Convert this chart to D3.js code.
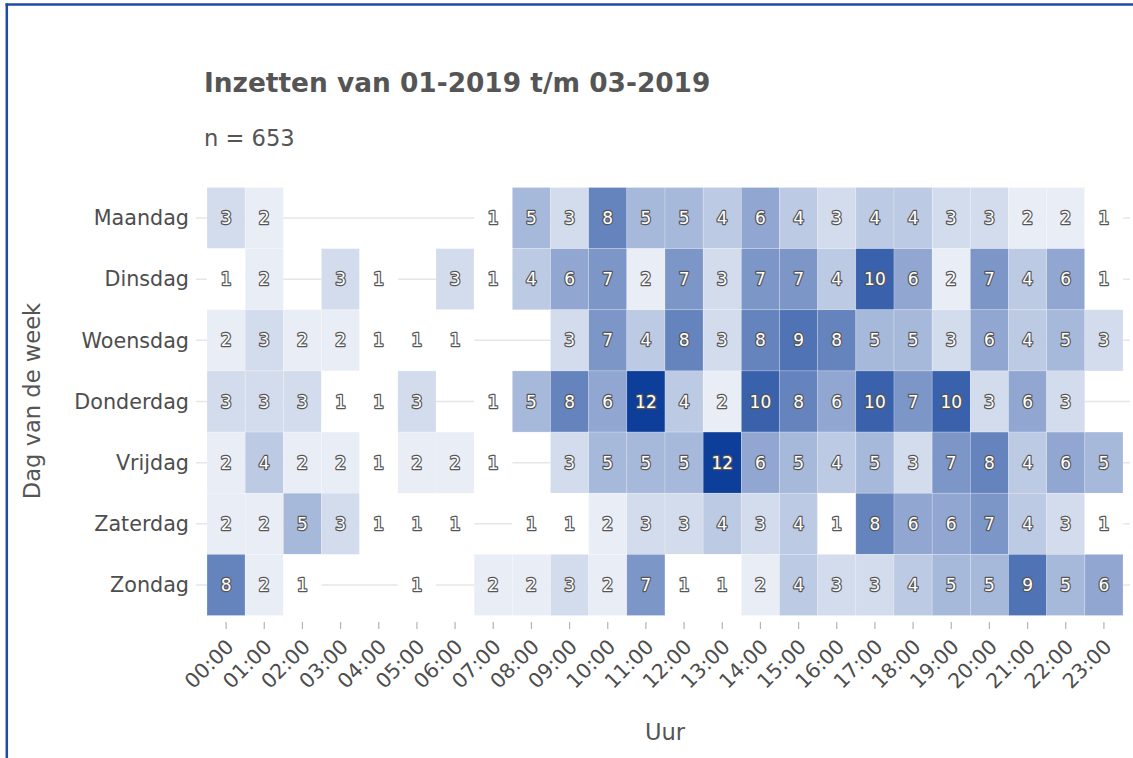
<!DOCTYPE html>
<html>
<head>
<meta charset="utf-8">
<script src="https://cdn.jsdelivr.net/npm/d3@7"></script>
<style>
  body { margin: 0; background: #fff; }
  text { font-family: "DejaVu Sans", sans-serif; }
</style>
</head>
<body>
<svg id="chart"></svg>
<script>
// data
var days = ["Maandag", "Dinsdag", "Woensdag", "Donderdag", "Vrijdag", "Zaterdag", "Zondag"];
var hours = ["00:00", "01:00", "02:00", "03:00", "04:00", "05:00", "06:00", "07:00", "08:00", "09:00", "10:00", "11:00",
             "12:00", "13:00", "14:00", "15:00", "16:00", "17:00", "18:00", "19:00", "20:00", "21:00", "22:00", "23:00"];
// null = geen inzetten in dat uur
var maandag   = [3, 2, null, null, null, null, null, 1, 5, 3, 8, 5, 5, 4, 6, 4, 3, 4, 4, 3, 3, 2, 2, 1];
var dinsdag   = [1, 2, null, 3, 1, null, 3, 1, 4, 6, 7, 2, 7, 3, 7, 7, 4, 10, 6, 2, 7, 4, 6, 1];
var woensdag  = [2, 3, 2, 2, 1, 1, 1, null, null, 3, 7, 4, 8, 3, 8, 9, 8, 5, 5, 3, 6, 4, 5, 3];
var donderdag = [3, 3, 3, 1, 1, 3, null, 1, 5, 8, 6, 12, 4, 2, 10, 8, 6, 10, 7, 10, 3, 6, 3, null];
var vrijdag   = [2, 4, 2, 2, 1, 2, 2, 1, null, 3, 5, 5, 5, 12, 6, 5, 4, 5, 3, 7, 8, 4, 6, 5];
var zaterdag  = [2, 2, 5, 3, 1, 1, 1, null, 1, 1, 2, 3, 3, 4, 3, 4, 1, 8, 6, 6, 7, 4, 3, 1];
var zondag    = [8, 2, 1, null, null, 1, null, 2, 2, 3, 2, 7, 1, 1, 2, 4, 3, 3, 4, 5, 5, 9, 5, 6];
var rows = [maandag, dinsdag, woensdag, donderdag, vrijdag, zaterdag, zondag];
var title = "Inzetten van 01-2019 t/m 03-2019";
var subtitle = "n = 653";

var width = 1133, height = 758;
var svg = d3.select("#chart").attr("width", width).attr("height", height);

// frame lines (top and left)
svg.append("line").attr("x1", 5.5).attr("x2", width).attr("y1", 4.5).attr("y2", 4.5)
    .attr("stroke", "#1d4ba6").attr("stroke-width", 2.3);
svg.append("line").attr("x1", 6.8).attr("x2", 6.8).attr("y1", 3.5).attr("y2", height)
    .attr("stroke", "#1d4ba6").attr("stroke-width", 2.5);

var x = d3.scaleBand().domain(hours).range([207, 1123]);
var y = d3.scaleBand().domain(days).range([187.5, 615.5]);
var color = d3.scaleLinear().domain([1, 12]).range(["#ffffff", "#0d3e99"]);

var cells = [];
rows.forEach(function (r, i) {
    r.forEach(function (v, j) {
        if (v !== null) cells.push({ day: days[i], hour: hours[j], value: v });
    });
});

// gridlines
svg.selectAll("line.ygrid")
    .data(days)
    .enter()
    .append("line")
    .attr("class", "ygrid")
    .attr("x1", 196)
    .attr("x2", 1130)
    .attr("y1", function (d) { return y(d) + y.bandwidth() / 2; })
    .attr("y2", function (d) { return y(d) + y.bandwidth() / 2; })
    .attr("stroke", "#e6e6e6")
    .attr("stroke-width", 1.5);

svg.selectAll("rect.cell")
    .data(cells)
    .enter()
    .append("rect")
    .attr("class", "cell")
    .attr("x", function (d) { return x(d.hour); })
    .attr("y", function (d) { return y(d.day); })
    .attr("width", x.bandwidth())
    .attr("height", y.bandwidth())
    .attr("fill", function (d) { return color(d.value); })
    .attr("stroke", "rgba(255,255,255,0.35)")
    .attr("stroke-width", 0.6);

svg.selectAll("text.val")
    .data(cells)
    .enter()
    .append("text")
    .attr("class", "val")
    .attr("x", function (d) { return x(d.hour) + x.bandwidth() / 2; })
    .attr("y", function (d) { return y(d.day) + y.bandwidth() / 2; })
    .attr("dy", "0.36em")
    .attr("text-anchor", "middle")
    .style("font-size", "17px")
    .style("fill", "#ffffff")
    .style("stroke", "#555555")
    .style("stroke-width", "2.4px")
    .style("stroke-linejoin", "round")
    .style("paint-order", "stroke")
    .text(function (d) { return d.value; });

// y-axis
var yaxis = svg.append("g")
    .attr("transform", "translate(207,0)")
    .call(d3.axisLeft(y).tickSize(0).tickPadding(18));
yaxis.select(".domain").remove();
yaxis.selectAll("text")
    .style("font-size", "20.7px")
    .style("fill", "#4d4d4d")
    .attr("dy", "0.35em");

// x-axis
var xaxis = svg.append("g")
    .attr("transform", "translate(0,622)")
    .call(d3.axisBottom(x).tickSize(7).tickPadding(0));
xaxis.select(".domain").remove();
xaxis.selectAll(".tick line").attr("stroke", "#b3b3b3").attr("stroke-width", 1.2);
xaxis.selectAll("text")
    .style("font-size", "20.5px")
    .style("fill", "#4d4d4d")
    .style("text-anchor", "end")
    .attr("dy", 0)
    .attr("y", 0)
    .attr("transform", "translate(9,26) rotate(-45)");

// titles
svg.append("text").attr("x", 204).attr("y", 92)
    .style("font-size", "26.4px").style("font-weight", "bold").style("fill", "#555555")
    .text(title);
svg.append("text").attr("x", 204).attr("y", 146)
    .style("font-size", "22.6px").style("fill", "#555555")
    .text(subtitle);
svg.append("text").attr("x", 665).attr("y", 740)
    .attr("text-anchor", "middle")
    .style("font-size", "22.6px").style("fill", "#555555")
    .text("Uur");
svg.append("text")
    .attr("transform", "translate(40,401) rotate(-90)")
    .attr("text-anchor", "middle")
    .style("font-size", "22.6px").style("fill", "#555555")
    .text("Dag van de week");
</script>
</body>
</html>
